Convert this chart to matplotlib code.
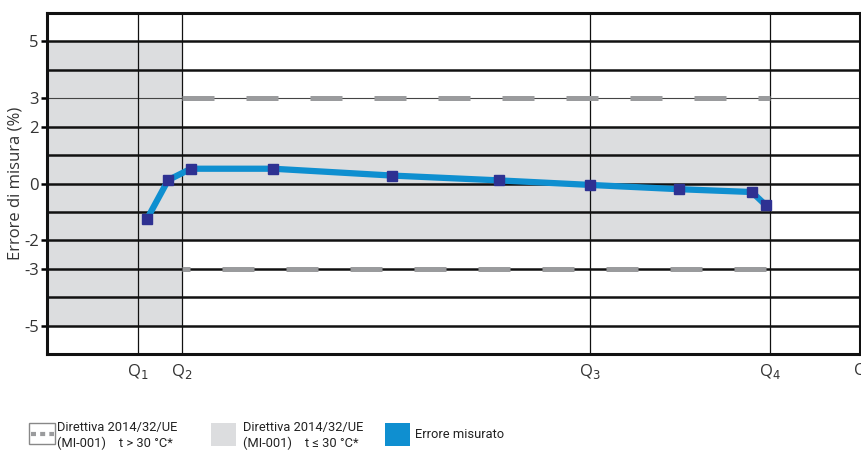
import matplotlib
matplotlib.use("Agg")
import matplotlib.pyplot as plt
from matplotlib.patches import Rectangle
from matplotlib.lines import Line2D

plt.rcParams['font.family'] = ['Open Sans', 'DejaVu Sans']
LEG_FONT = ['Roboto', 'DejaVu Sans']
LEG_SIZE = 9.3

# ---- dati ----
x_misure = [12.3, 14.9, 17.7, 27.8, 42.4, 55.6, 66.8, 77.7, 86.7, 88.4]
err_misure = [-1.25, 0.12, 0.52, 0.52, 0.28, 0.11, -0.05, -0.20, -0.30, -0.76]
q_pos = [11.2, 16.6, 66.8, 88.9, 100.0]
q_labels = ['Q$_1$', 'Q$_2$', 'Q$_3$', 'Q$_4$', 'Q']
y_ticks = [5, 3, 2, 0, -2, -3, -5]
y_grid = list(range(-6, 7))
limite_basso = 5      # Q < Q2
limite_alto = 2       # Q2 <= Q <= Q4
limite_caldo = 3      # t > 30 °C

GRIGIO = '#dcdddf'
BLU = '#0f8fd0'
BLU_SCURO = '#2e3192'
TRATTEGGIO = '#9a9b9d'

fig = plt.figure(figsize=(8.62, 4.54), dpi=100)
ax = fig.add_axes([47 / 862, 100 / 454, 813 / 862, 341 / 454])
ax.set_xlim(0, 100)
ax.set_ylim(-6, 6)

# zone tollerate
ax.add_patch(Rectangle((0, -limite_basso), q_pos[1], 2 * limite_basso,
                       color=GRIGIO, lw=0, zorder=0))
ax.add_patch(Rectangle((q_pos[1], -limite_alto), q_pos[3] - q_pos[1], 2 * limite_alto,
                       color=GRIGIO, lw=0, zorder=0))

# griglia
for y in y_grid:
    if y == limite_caldo:
        ax.axhline(y, color='#444444', lw=0.8, zorder=1)
    else:
        ax.axhline(y, color='#111111', lw=1.8, zorder=1)
for x in q_pos[:4]:
    ax.axvline(x, color='#111111', lw=0.9, zorder=1)

# limiti t > 30 °C
ax.plot([q_pos[1], q_pos[3]], [limite_caldo, limite_caldo], color=TRATTEGGIO,
        lw=3.6, linestyle=(0, (6.4, 6.4)), dash_capstyle='butt', zorder=2)
ax.plot([q_pos[1], q_pos[3]], [-limite_caldo, -limite_caldo], color=TRATTEGGIO,
        lw=3.6, linestyle=(4.8, (6.4, 6.4)), dash_capstyle='butt', zorder=2)

# errore misurato
ax.plot(x_misure, err_misure, color=BLU, lw=4.5, solid_joinstyle='round', zorder=3)
ax.plot(x_misure, err_misure, ls='none', marker='s', ms=7, color=BLU_SCURO, zorder=4)

for s in ax.spines.values():
    s.set_linewidth(2.2)
    s.set_color('#111111')

ax.set_yticks(y_ticks)
ax.set_yticklabels([str(v) for v in y_ticks], fontsize=12, color='#333333')
ax.tick_params(axis='y', length=4, width=1.8, pad=2)
ax.set_xticks(q_pos)
ax.set_xticklabels(q_labels, fontsize=12, color='#333333')
ax.tick_params(axis='x', length=0, pad=6)
ax.set_ylabel('Errore di misura (%)', fontsize=12, color='#333333', labelpad=0)

# legenda
fig.add_artist(Rectangle((29 / 862, 10 / 454), 26 / 862, 21 / 454, transform=fig.transFigure,
                         facecolor='white', edgecolor='#888888', lw=1))
fig.add_artist(Line2D([31 / 862, 54 / 862], [20.5 / 454, 20.5 / 454], transform=fig.transFigure,
                      color=TRATTEGGIO, lw=3, dashes=(1.2, 1)))
fig.text(57 / 862, 27 / 454, 'Direttiva 2014/32/UE', fontsize=LEG_SIZE, family=LEG_FONT,
         color='#222222', va='center')
fig.text(57 / 862, 11 / 454, '(MI-001)    t > 30 °C*', fontsize=LEG_SIZE, family=LEG_FONT,
         color='#222222', va='center')

fig.add_artist(Rectangle((211 / 862, 8 / 454), 25 / 862, 23 / 454, transform=fig.transFigure,
                         facecolor=GRIGIO, edgecolor='none'))
fig.text(243 / 862, 27 / 454, 'Direttiva 2014/32/UE', fontsize=LEG_SIZE, family=LEG_FONT,
         color='#222222', va='center')
fig.text(243 / 862, 11 / 454, '(MI-001)    t ≤ 30 °C*', fontsize=LEG_SIZE, family=LEG_FONT,
         color='#222222', va='center')

fig.add_artist(Rectangle((385 / 862, 8 / 454), 25 / 862, 23 / 454, transform=fig.transFigure,
                         facecolor=BLU, edgecolor='none'))
fig.text(415 / 862, 19 / 454, 'Errore misurato', fontsize=LEG_SIZE, family=LEG_FONT,
         color='#222222', va='center')

fig.savefig('out.png', dpi=100)
